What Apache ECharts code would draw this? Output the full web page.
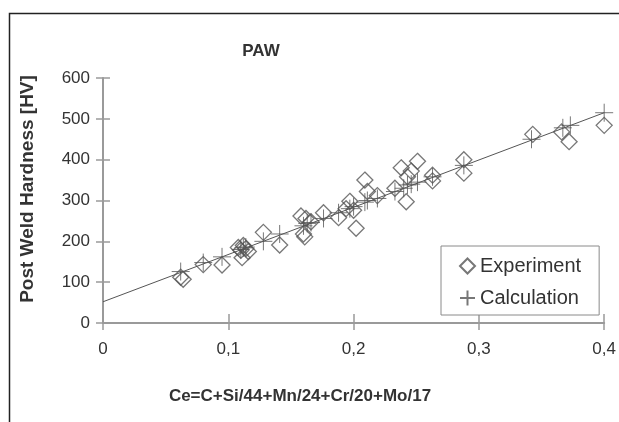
<!DOCTYPE html>
<html>
<head>
<meta charset="utf-8">
<script src="https://cdn.jsdelivr.net/npm/echarts@6/dist/echarts.min.js"></script>
<style>
html,body{margin:0;padding:0;background:#fff;}
#c{width:619px;height:422px;}
</style>
</head>
<body>
<div id="c"></div>
<script>
var titleText = 'PAW';
var xAxisTitle = 'Ce=C+Si/44+Mn/24+Cr/20+Mo/17';
var yAxisTitle = 'Post Weld Hardness [HV]';
var seriesNames = ['Experiment', 'Calculation'];

var experimentX = [0.062,0.064,0.080,0.095,0.108,0.110,0.112,0.111,0.114,0.116,0.128,0.141,0.158,0.162,0.161,0.160,0.166,0.176,0.188,0.194,0.197,0.200,0.202,0.209,0.211,0.219,0.233,0.238,0.242,0.243,0.246,0.251,0.263,0.263,0.288,0.288,0.343,0.366,0.372,0.400];
var experimentY = [112,107,143,142,185,178,190,160,182,175,222,191,262,256,211,218,248,270,258,280,298,276,232,350,322,312,330,380,297,358,372,396,362,348,400,367,462,468,444,484];

var calculationX = [0.062,0.080,0.095,0.110,0.112,0.114,0.128,0.141,0.160,0.163,0.166,0.176,0.188,0.197,0.200,0.209,0.211,0.219,0.233,0.240,0.243,0.246,0.251,0.263,0.288,0.342,0.367,0.373,0.400];
var calculationY = [126,148,162,180,184,186,200,218,238,244,246,256,270,280,285,296,300,305,322,330,338,340,345,358,386,450,478,484,515];

var fitLineX = [0, 0.4];
var fitLineY = [52, 515];

var xTicks = [0, 0.1, 0.2, 0.3, 0.4];
var yTicks = [0, 100, 200, 300, 400, 500, 600];

function pairs(xs, ys){ return xs.map(function(x,i){ return [x, ys[i]]; }); }

var FONT = '"Liberation Sans", Arial, sans-serif';
var axisGray = '#9a9a9a';
var markColor = '#555';

var chart = echarts.init(document.getElementById('c'));
var plusPath = 'path://M5,0L5,10M0,5L10,5';

var baseX = {
  type: 'value', position: 'bottom', min: xTicks[0], max: xTicks[xTicks.length-1], interval: 0.1,
  splitLine: {show:false},
  axisLine: {show:true, onZero:false, lineStyle:{color:axisGray, width:2}},
  axisTick: {show:true, length:7, lineStyle:{color:axisGray, width:1.5}},
  axisLabel: {show:true, color:'#333', fontSize:17, fontFamily:FONT, margin:18,
    formatter: function(v){ return String(+v.toFixed(1)).replace('.', ','); }}
};
var baseY = {
  type: 'value', position: 'left', min: yTicks[0], max: yTicks[yTicks.length-1], interval: 100,
  splitLine: {show:false},
  axisLine: {show:true, onZero:false, lineStyle:{color:axisGray, width:2}},
  axisTick: {show:true, length:7, lineStyle:{color:axisGray, width:1.5}},
  axisLabel: {show:true, color:'#333', fontSize:17, fontFamily:FONT, margin:13}
};
var innerX = {
  type: 'value', position: 'bottom', min: xTicks[0], max: xTicks[xTicks.length-1], interval: 0.1,
  splitLine: {show:false}, axisLabel: {show:false},
  axisLine: {show:false, onZero:false},
  axisTick: {show:true, inside:true, length:9, lineStyle:{color:axisGray, width:1.5}}
};
var innerY = {
  type: 'value', position: 'left', min: yTicks[0], max: yTicks[yTicks.length-1], interval: 100,
  splitLine: {show:false}, axisLabel: {show:false},
  axisLine: {show:false, onZero:false},
  axisTick: {show:true, inside:true, length:7, lineStyle:{color:axisGray, width:1.5}}
};

chart.setOption({
  animation: false,
  backgroundColor: '#fff',
  grid: {left:103, right:11, top:78, bottom:99, containLabel:false},
  xAxis: [baseX, innerX],
  yAxis: [baseY, innerY],
  legend: {
    orient: 'vertical', left: 441, top: 246,
    padding: [10, 18, 7, 18], itemGap: 12, itemWidth: 15, itemHeight: 15,
    backgroundColor: '#fff', borderColor: '#8a8a8a', borderWidth: 1,
    textStyle: {fontSize: 20, color: '#333', fontFamily: FONT},
    data: seriesNames
  },
  graphic: [
    {type:'rect', shape:{x:9.5, y:13.5, width:800, height:600}, style:{fill:'none', stroke:'#222', lineWidth:1.5}, silent:true},
    {type:'text', x:261, y:51, style:{text:titleText, font:'bold 17px '+FONT, fill:'#333', textAlign:'center', textVerticalAlign:'middle'}},
    {type:'text', x:300, y:396, style:{text:xAxisTitle, font:'bold 17px '+FONT, fill:'#333', textAlign:'center', textVerticalAlign:'middle'}},
    {type:'text', x:28, y:189, rotation:Math.PI/2, style:{text:yAxisTitle, font:'bold 19px '+FONT, fill:'#333', textAlign:'center', textVerticalAlign:'middle'}}
  ],
  series: [
    {
      name: 'fit', type: 'line', data: pairs(fitLineX, fitLineY), showSymbol:false, symbol:'none',
      lineStyle: {color:'#555', width:1}, silent:true, z:1
    },
    {
      name: seriesNames[0], type: 'scatter', data: pairs(experimentX, experimentY),
      symbol: 'diamond', symbolSize: 16,
      itemStyle: {color:'rgba(0,0,0,0)', borderColor:markColor, borderWidth:1.3}, z:3
    },
    {
      name: seriesNames[1], type: 'scatter', data: pairs(calculationX, calculationY),
      symbol: plusPath, symbolSize: 18,
      itemStyle: {color:'rgba(0,0,0,0)', borderColor:markColor, borderWidth:1}, z:2
    }
  ]
});
</script>
</body>
</html>
